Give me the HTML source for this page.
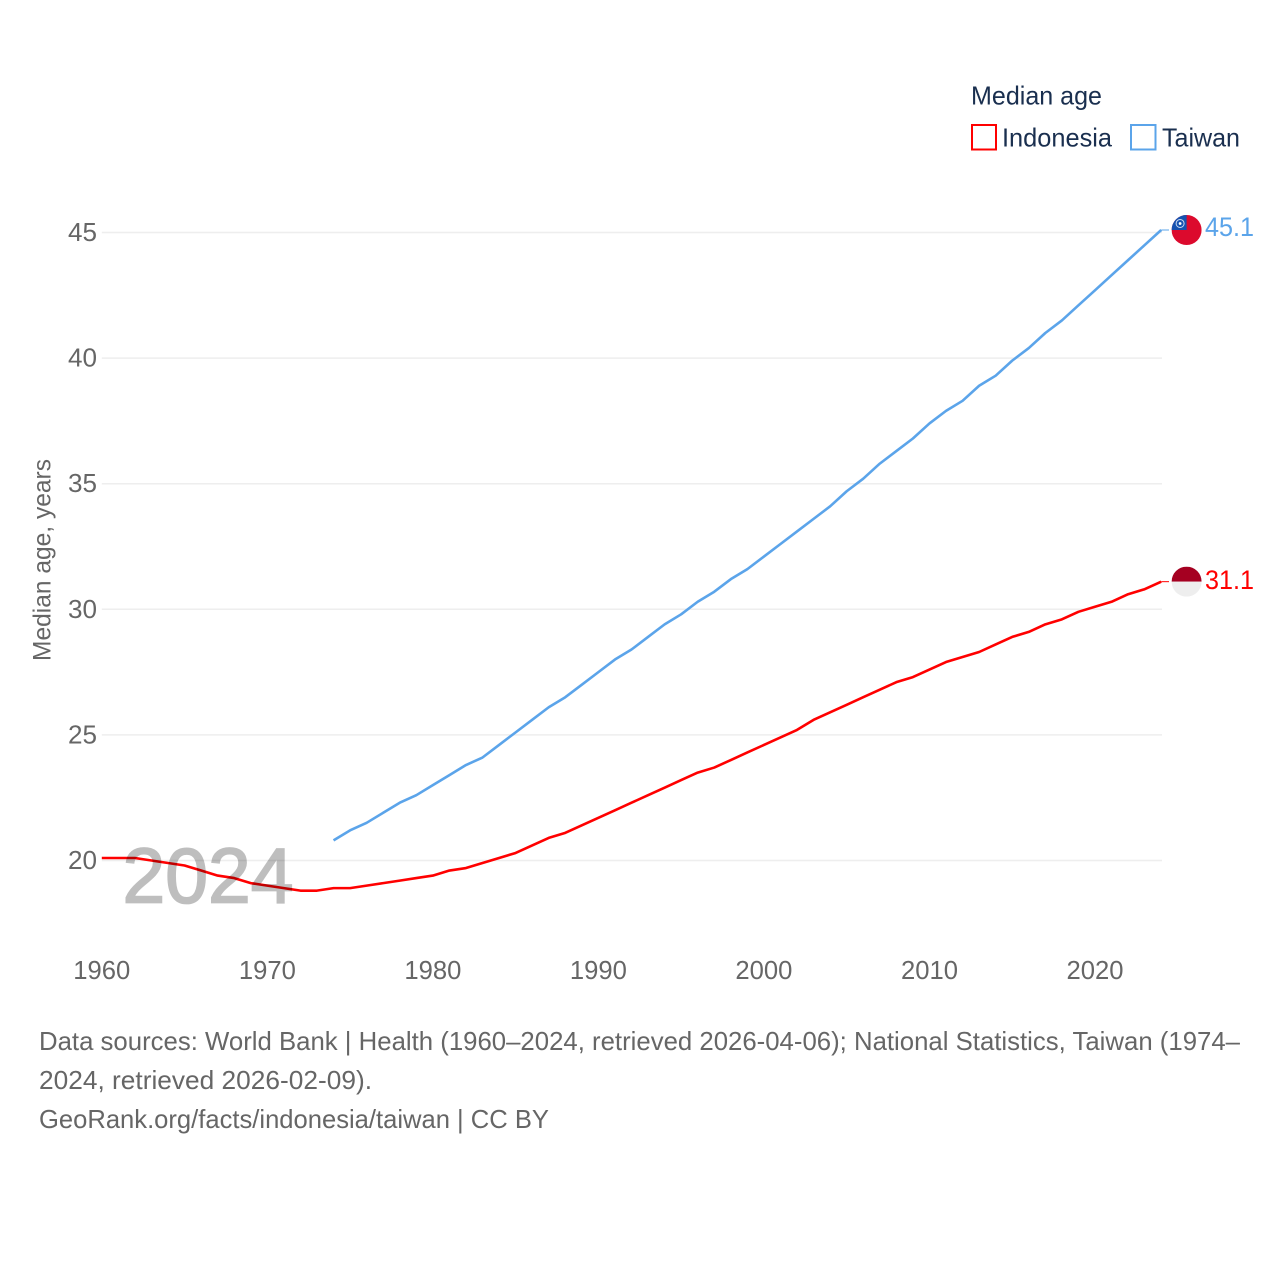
<!DOCTYPE html>
<html>
<head>
<meta charset="utf-8">
<title>Median age: Indonesia and Taiwan</title>
<style>
html,body{margin:0;padding:0;background:#fff;width:1280px;height:1280px;overflow:hidden}
svg{display:block}
text{font-family:"Liberation Sans","DejaVu Sans",sans-serif}
</style>
</head>
<body>
<svg id="chart" width="1280" height="1280" viewBox="0 0 1280 1280" xmlns="http://www.w3.org/2000/svg">
  <defs>
    <clipPath id="flag-clip"><circle cx="0" cy="0" r="15"></circle></clipPath>
  </defs>
  <g id="grid"></g>
  <g id="y-ticks"></g>
  <g id="x-ticks"></g>
  <text transform="translate(50.5,661) rotate(-90)" font-size="25" fill="#666666" textLength="202" lengthAdjust="spacingAndGlyphs">Median age, years</text>

  <g id="series"></g>
  <text id="year-label" x="122.5" y="902.5" font-size="78" fill="#000" stroke="#000" stroke-width="1.8" opacity="0.25" textLength="171" lengthAdjust="spacingAndGlyphs">2024</text>

  <g>
    <text x="971" y="104.5" font-size="26" fill="#1a2f4f" textLength="131" lengthAdjust="spacingAndGlyphs">Median age</text>
    <rect x="972" y="125" width="24" height="24.5" fill="#fff" stroke="#ff0000" stroke-width="2"></rect>
    <text x="1002" y="146.5" font-size="26" fill="#1a2f4f" textLength="110" lengthAdjust="spacingAndGlyphs">Indonesia</text>
    <rect x="1131" y="125" width="24.5" height="24.5" fill="#fff" stroke="#5ba4ea" stroke-width="2"></rect>
    <text x="1162" y="146.5" font-size="26" fill="#1a2f4f" textLength="78" lengthAdjust="spacingAndGlyphs">Taiwan</text>
  </g>

  <g font-size="26" fill="#666666">
    <text x="39" y="1050" textLength="1201" lengthAdjust="spacingAndGlyphs">Data sources: World Bank | Health (1960–2024, retrieved 2026-04-06); National Statistics, Taiwan (1974–</text>
    <text x="39" y="1089" textLength="333" lengthAdjust="spacingAndGlyphs">2024, retrieved 2026-02-09).</text>
    <text x="39" y="1128" textLength="510" lengthAdjust="spacingAndGlyphs">GeoRank.org/facts/indonesia/taiwan | CC BY</text>
  </g>
</svg>
<script>
const xTickYears = [1960, 1970, 1980, 1990, 2000, 2010, 2020];
const yTickValues = [20, 25, 30, 35, 40, 45];
const indonesiaYears = [1960,1961,1962,1963,1964,1965,1966,1967,1968,1969,1970,1971,1972,1973,1974,1975,1976,1977,1978,1979,1980,1981,1982,1983,1984,1985,1986,1987,1988,1989,1990,1991,1992,1993,1994,1995,1996,1997,1998,1999,2000,2001,2002,2003,2004,2005,2006,2007,2008,2009,2010,2011,2012,2013,2014,2015,2016,2017,2018,2019,2020,2021,2022,2023,2024];
const indonesiaValues = [20.1,20.1,20.1,20.0,19.9,19.8,19.6,19.4,19.3,19.1,19.0,18.9,18.8,18.8,18.9,18.9,19.0,19.1,19.2,19.3,19.4,19.6,19.7,19.9,20.1,20.3,20.6,20.9,21.1,21.4,21.7,22.0,22.3,22.6,22.9,23.2,23.5,23.7,24.0,24.3,24.6,24.9,25.2,25.6,25.9,26.2,26.5,26.8,27.1,27.3,27.6,27.9,28.1,28.3,28.6,28.9,29.1,29.4,29.6,29.9,30.1,30.3,30.6,30.8,31.1];
const taiwanYears = [1974,1975,1976,1977,1978,1979,1980,1981,1982,1983,1984,1985,1986,1987,1988,1989,1990,1991,1992,1993,1994,1995,1996,1997,1998,1999,2000,2001,2002,2003,2004,2005,2006,2007,2008,2009,2010,2011,2012,2013,2014,2015,2016,2017,2018,2019,2020,2021,2022,2023,2024];
const taiwanValues = [20.8,21.2,21.5,21.9,22.3,22.6,23.0,23.4,23.8,24.1,24.6,25.1,25.6,26.1,26.5,27.0,27.5,28.0,28.4,28.9,29.4,29.8,30.3,30.7,31.2,31.6,32.1,32.6,33.1,33.6,34.1,34.7,35.2,35.8,36.3,36.8,37.4,37.9,38.3,38.9,39.3,39.9,40.4,41.0,41.5,42.1,42.7,43.3,43.9,44.5,45.1];

const NS = 'http://www.w3.org/2000/svg';
const plotLeft = 101.8, plotRight = 1161.2, gridRight = 1162, year0 = 1960, year1 = 2024;
const yAt20 = 860.5, yAt45 = 232.5;
function xScale(year) { return plotLeft + (year - year0) * (plotRight - plotLeft) / (year1 - year0); }
function yScale(v) { return yAt20 - (v - 20) * (yAt20 - yAt45) / 25; }
function make(tag, attrs, parent) {
  const el = document.createElementNS(NS, tag);
  for (const k in attrs) el.setAttribute(k, attrs[k]);
  parent.appendChild(el);
  return el;
}

const gridG = document.getElementById('grid');
const yTicksG = document.getElementById('y-ticks');
const xTicksG = document.getElementById('x-ticks');
const seriesG = document.getElementById('series');

yTickValues.forEach(function (v) {
  const line = make('line', { x1: plotLeft, x2: gridRight, y1: yScale(v), y2: yScale(v), stroke: '#eeeeee', 'stroke-width': 1.5 }, gridG);
  
  
  const t = make('text', { x: 97, y: yScale(v) + 8.5, 'text-anchor': 'end', 'font-size': 26, fill: '#666666', textLength: 29, lengthAdjust: 'spacingAndGlyphs' }, yTicksG);
  
  
  t.textContent = v;
});

xTickYears.forEach(function (year) {
  const t = make('text', { x: xScale(year), y: 979, 'text-anchor': 'middle', 'font-size': 26, fill: '#666666', textLength: 57, lengthAdjust: 'spacingAndGlyphs' }, xTicksG);
  
  
  t.textContent = year;
});

function drawSeries(name, years, values, color, labelDy) {
  const points = years.map(function (y, i) { return xScale(y).toFixed(2) + ',' + yScale(values[i]).toFixed(2); }).join(' ');
  const line = make('polyline', { points: points, fill: 'none', stroke: color, 'stroke-width': 2.6, 'stroke-linejoin': 'round', 'stroke-linecap': 'butt' }, seriesG);
  
  
  const last = values[values.length - 1];
  const endY = yScale(last);
  const connector = make('line', { x1: plotRight, x2: 1169, y1: endY, y2: endY, stroke: color, 'stroke-width': 1 }, seriesG);
  
  
  const label = make('text', { x: 1205, y: endY + labelDy, 'font-size': 27, fill: color, textLength: 49, lengthAdjust: 'spacingAndGlyphs' }, seriesG);
  
  
  label.textContent = last.toFixed(1);
  const flag = make('g', { transform: 'translate(1186.6,' + endY + ')', 'clip-path': 'url(#flag-clip)' }, seriesG);
  
  
  return flag;
}

const idFlag = drawSeries('indonesia', indonesiaYears, indonesiaValues, '#ff0000', 7.5);
make('rect', { x: -15, y: -15, width: 30, height: 15, fill: '#a50021' }, idFlag);
make('rect', { x: -15, y: 0, width: 30, height: 15, fill: '#eeeeee' }, idFlag);

const twFlag = drawSeries('taiwan', taiwanYears, taiwanValues, '#5ba4ea', 6);
make('rect', { x: -15, y: -15, width: 30, height: 30, fill: '#dc0a2d' }, twFlag);
make('rect', { x: -15, y: -15, width: 15, height: 15, fill: '#1552b0' }, twFlag);
make('circle', { cx: -6.5, cy: -6.5, r: 4, fill: 'none', stroke: '#c9d8f0', 'stroke-width': 1 }, twFlag);
make('circle', { cx: -6.5, cy: -6.5, r: 1.4, fill: '#ffffff' }, twFlag);
</script>
</body>
</html>
